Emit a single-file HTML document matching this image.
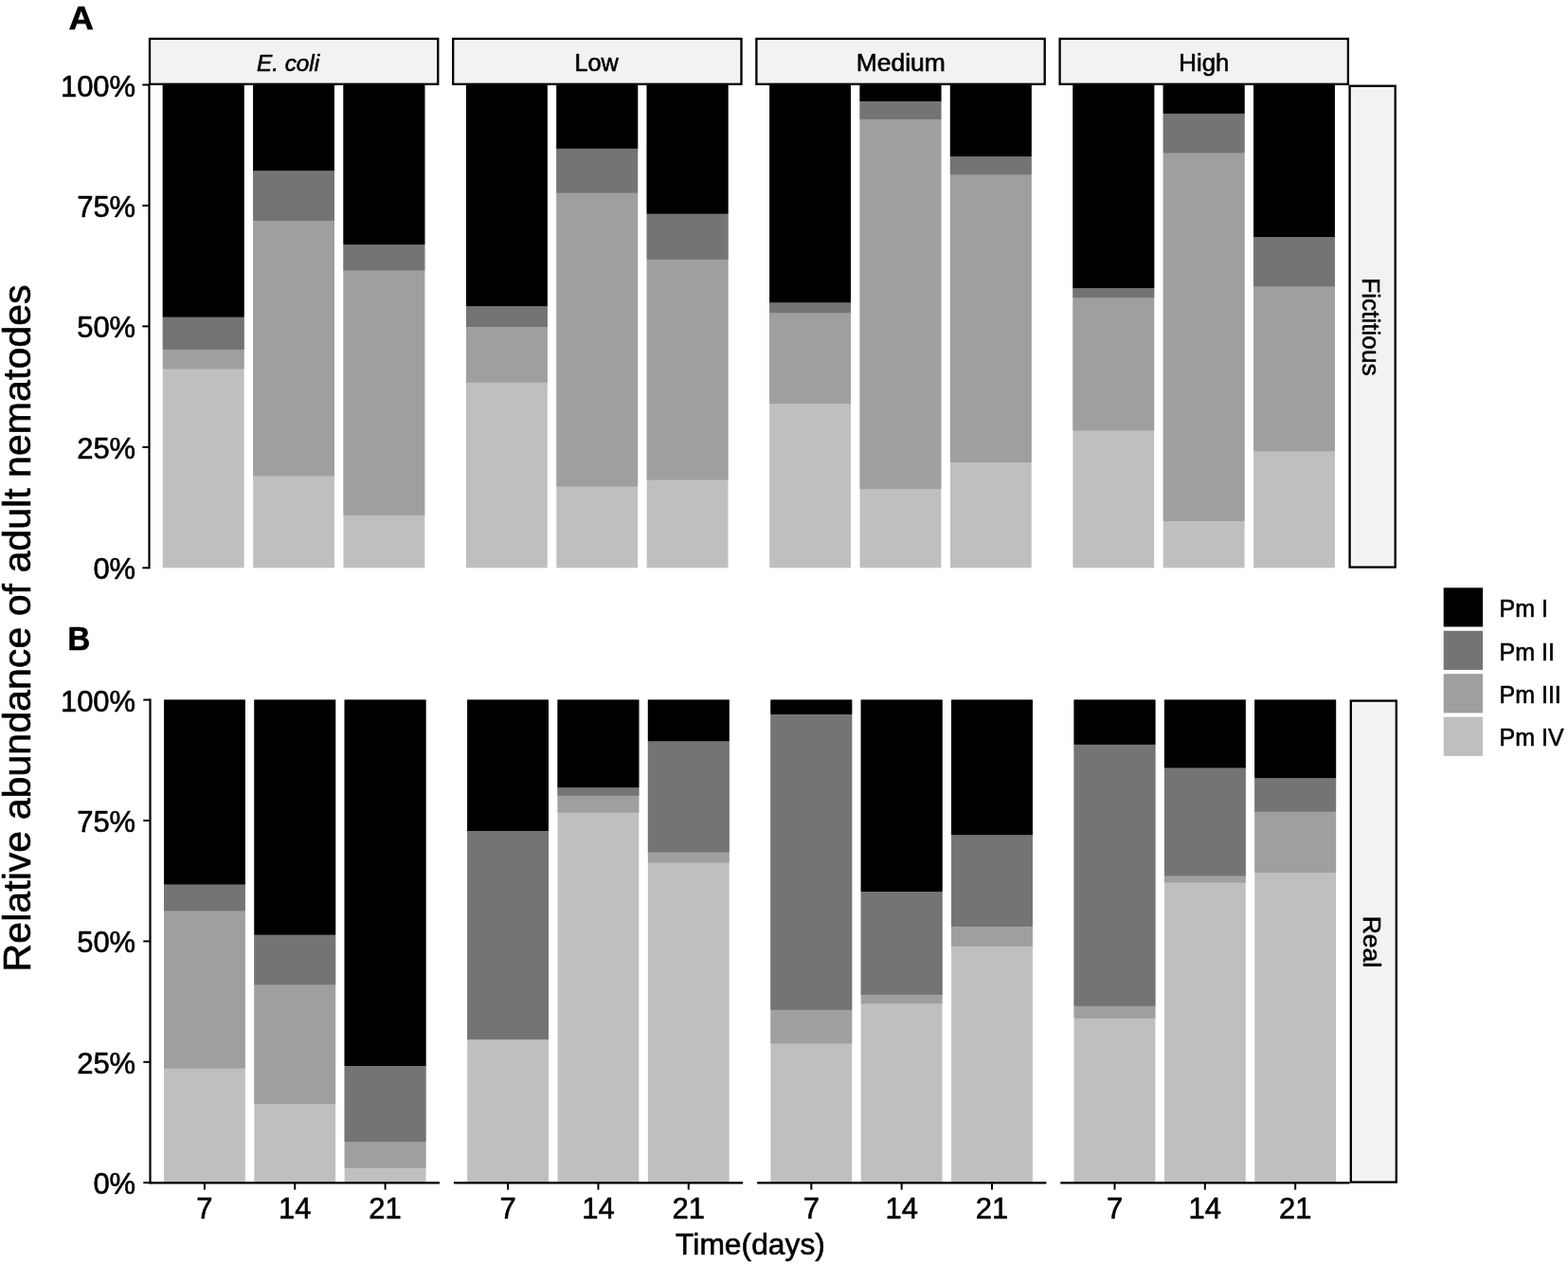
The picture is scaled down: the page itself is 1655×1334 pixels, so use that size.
<!DOCTYPE html>
<html lang="en">
<head>
<meta charset="utf-8">
<title>Relative abundance of adult nematodes</title>
<style>
html,body{margin:0;padding:0;background:#ffffff;}
body{width:1655px;height:1334px;overflow:hidden;}
svg{display:block;}
svg text{font-family:"Liberation Sans", sans-serif;fill:#000000;stroke:#000000;stroke-width:0.6px;stroke-linejoin:round;}
</style>
</head>
<body>
<svg width="1655" height="1334" viewBox="0 0 1655 1334">
<rect x="0" y="0" width="1655" height="1334" fill="#ffffff"/>
<g id="panelA">
<rect x="171.8" y="89.5" width="85.81" height="509.8" fill="#bfbfbf"/>
<rect x="171.8" y="89.5" width="85.81" height="300" fill="#9f9f9f"/>
<rect x="171.8" y="89.5" width="85.81" height="279.4" fill="#747474"/>
<rect x="171.8" y="89.5" width="85.81" height="245.1" fill="#000000"/>
<rect x="267.15" y="89.5" width="85.81" height="509.8" fill="#bfbfbf"/>
<rect x="267.15" y="89.5" width="85.81" height="413" fill="#9f9f9f"/>
<rect x="267.15" y="89.5" width="85.81" height="143.4" fill="#747474"/>
<rect x="267.15" y="89.5" width="85.81" height="90.6" fill="#000000"/>
<rect x="362.49" y="89.5" width="85.81" height="509.8" fill="#bfbfbf"/>
<rect x="362.49" y="89.5" width="85.81" height="454.3" fill="#9f9f9f"/>
<rect x="362.49" y="89.5" width="85.81" height="195.9" fill="#747474"/>
<rect x="362.49" y="89.5" width="85.81" height="168.6" fill="#000000"/>
<rect x="492" y="89.5" width="85.81" height="509.8" fill="#bfbfbf"/>
<rect x="492" y="89.5" width="85.81" height="314.3" fill="#9f9f9f"/>
<rect x="492" y="89.5" width="85.81" height="255.5" fill="#747474"/>
<rect x="492" y="89.5" width="85.81" height="233.6" fill="#000000"/>
<rect x="587.35" y="89.5" width="85.81" height="509.8" fill="#bfbfbf"/>
<rect x="587.35" y="89.5" width="85.81" height="424" fill="#9f9f9f"/>
<rect x="587.35" y="89.5" width="85.81" height="114.1" fill="#747474"/>
<rect x="587.35" y="89.5" width="85.81" height="67.3" fill="#000000"/>
<rect x="682.69" y="89.5" width="85.81" height="509.8" fill="#bfbfbf"/>
<rect x="682.69" y="89.5" width="85.81" height="417" fill="#9f9f9f"/>
<rect x="682.69" y="89.5" width="85.81" height="184.3" fill="#747474"/>
<rect x="682.69" y="89.5" width="85.81" height="136.1" fill="#000000"/>
<rect x="812.2" y="89.5" width="85.81" height="509.8" fill="#bfbfbf"/>
<rect x="812.2" y="89.5" width="85.81" height="336.6" fill="#9f9f9f"/>
<rect x="812.2" y="89.5" width="85.81" height="240.7" fill="#747474"/>
<rect x="812.2" y="89.5" width="85.81" height="229.8" fill="#000000"/>
<rect x="907.55" y="89.5" width="85.81" height="509.8" fill="#bfbfbf"/>
<rect x="907.55" y="89.5" width="85.81" height="426.6" fill="#9f9f9f"/>
<rect x="907.55" y="89.5" width="85.81" height="36.4" fill="#747474"/>
<rect x="907.55" y="89.5" width="85.81" height="17.4" fill="#000000"/>
<rect x="1002.89" y="89.5" width="85.81" height="509.8" fill="#bfbfbf"/>
<rect x="1002.89" y="89.5" width="85.81" height="398.5" fill="#9f9f9f"/>
<rect x="1002.89" y="89.5" width="85.81" height="94.8" fill="#747474"/>
<rect x="1002.89" y="89.5" width="85.81" height="75.6" fill="#000000"/>
<rect x="1132.4" y="89.5" width="85.81" height="509.8" fill="#bfbfbf"/>
<rect x="1132.4" y="89.5" width="85.81" height="365" fill="#9f9f9f"/>
<rect x="1132.4" y="89.5" width="85.81" height="224.6" fill="#747474"/>
<rect x="1132.4" y="89.5" width="85.81" height="214.6" fill="#000000"/>
<rect x="1227.75" y="89.5" width="85.81" height="509.8" fill="#bfbfbf"/>
<rect x="1227.75" y="89.5" width="85.81" height="460.5" fill="#9f9f9f"/>
<rect x="1227.75" y="89.5" width="85.81" height="71.9" fill="#747474"/>
<rect x="1227.75" y="89.5" width="85.81" height="30.4" fill="#000000"/>
<rect x="1323.09" y="89.5" width="85.81" height="509.8" fill="#bfbfbf"/>
<rect x="1323.09" y="89.5" width="85.81" height="386.7" fill="#9f9f9f"/>
<rect x="1323.09" y="89.5" width="85.81" height="212.8" fill="#747474"/>
<rect x="1323.09" y="89.5" width="85.81" height="160.6" fill="#000000"/>
<rect x="158" y="40.9" width="304.3" height="47.9" fill="#f2f2f2" stroke="#000" stroke-width="2.3"/>
<rect x="478.2" y="40.9" width="304.3" height="47.9" fill="#f2f2f2" stroke="#000" stroke-width="2.3"/>
<rect x="798.4" y="40.9" width="304.3" height="47.9" fill="#f2f2f2" stroke="#000" stroke-width="2.3"/>
<rect x="1118.6" y="40.9" width="304.3" height="47.9" fill="#f2f2f2" stroke="#000" stroke-width="2.3"/>
<text x="271" y="75" font-size="24.3" font-style="italic">E. coli</text>
<text transform="translate(606.4 75) scale(0.957 1)" font-size="26.5">Low</text>
<text x="950.8" y="75" font-size="26.5" text-anchor="middle">Medium</text>
<text transform="translate(1270.9 75) scale(0.975 1)" font-size="26.5" text-anchor="middle">High</text>
<rect x="1424.6" y="90.7" width="48.1" height="507.9" fill="#f2f2f2" stroke="#000" stroke-width="2.3"/>
<text transform="translate(1437.6 344.9) rotate(90)" font-size="26.2" text-anchor="middle">Fictitious</text>
<path d="M157.5 88.5 V600.3" stroke="#000" stroke-width="2.2" fill="none"/>
<path d="M150.3 599.3 H157.5" stroke="#000" stroke-width="2" fill="none"/>
<text x="143.2" y="611.3" font-size="31" text-anchor="end">0%</text>
<path d="M150.3 471.85 H157.5" stroke="#000" stroke-width="2" fill="none"/>
<text x="143.2" y="483.85" font-size="31" text-anchor="end">25%</text>
<path d="M150.3 344.4 H157.5" stroke="#000" stroke-width="2" fill="none"/>
<text x="143.2" y="356.4" font-size="31" text-anchor="end">50%</text>
<path d="M150.3 216.95 H157.5" stroke="#000" stroke-width="2" fill="none"/>
<text x="143.2" y="228.95" font-size="31" text-anchor="end">75%</text>
<path d="M150.3 89.5 H157.5" stroke="#000" stroke-width="2" fill="none"/>
<text x="143.2" y="101.5" font-size="31" text-anchor="end">100%</text>
</g>
<g id="panelB">
<rect x="173" y="738.6" width="85.81" height="509.6" fill="#bfbfbf"/>
<rect x="173" y="738.6" width="85.81" height="389" fill="#9f9f9f"/>
<rect x="173" y="738.6" width="85.81" height="222.7" fill="#747474"/>
<rect x="173" y="738.6" width="85.81" height="194.8" fill="#000000"/>
<rect x="268.35" y="738.6" width="85.81" height="509.6" fill="#bfbfbf"/>
<rect x="268.35" y="738.6" width="85.81" height="426.5" fill="#9f9f9f"/>
<rect x="268.35" y="738.6" width="85.81" height="300.7" fill="#747474"/>
<rect x="268.35" y="738.6" width="85.81" height="248" fill="#000000"/>
<rect x="363.69" y="738.6" width="85.81" height="509.6" fill="#bfbfbf"/>
<rect x="363.69" y="738.6" width="85.81" height="494.1" fill="#9f9f9f"/>
<rect x="363.69" y="738.6" width="85.81" height="466.4" fill="#747474"/>
<rect x="363.69" y="738.6" width="85.81" height="386.4" fill="#000000"/>
<rect x="493.2" y="738.6" width="85.81" height="509.6" fill="#bfbfbf"/>
<rect x="493.2" y="738.6" width="85.81" height="358.5" fill="#9f9f9f"/>
<rect x="493.2" y="738.6" width="85.81" height="358.5" fill="#747474"/>
<rect x="493.2" y="738.6" width="85.81" height="138.4" fill="#000000"/>
<rect x="588.55" y="738.6" width="85.81" height="509.6" fill="#bfbfbf"/>
<rect x="588.55" y="738.6" width="85.81" height="119" fill="#9f9f9f"/>
<rect x="588.55" y="738.6" width="85.81" height="101.1" fill="#747474"/>
<rect x="588.55" y="738.6" width="85.81" height="92.5" fill="#000000"/>
<rect x="683.89" y="738.6" width="85.81" height="509.6" fill="#bfbfbf"/>
<rect x="683.89" y="738.6" width="85.81" height="171.9" fill="#9f9f9f"/>
<rect x="683.89" y="738.6" width="85.81" height="160.9" fill="#747474"/>
<rect x="683.89" y="738.6" width="85.81" height="43.6" fill="#000000"/>
<rect x="813.4" y="738.6" width="85.81" height="509.6" fill="#bfbfbf"/>
<rect x="813.4" y="738.6" width="85.81" height="362.7" fill="#9f9f9f"/>
<rect x="813.4" y="738.6" width="85.81" height="327.2" fill="#747474"/>
<rect x="813.4" y="738.6" width="85.81" height="15.3" fill="#000000"/>
<rect x="908.75" y="738.6" width="85.81" height="509.6" fill="#bfbfbf"/>
<rect x="908.75" y="738.6" width="85.81" height="320.6" fill="#9f9f9f"/>
<rect x="908.75" y="738.6" width="85.81" height="311.2" fill="#747474"/>
<rect x="908.75" y="738.6" width="85.81" height="202.4" fill="#000000"/>
<rect x="1004.09" y="738.6" width="85.81" height="509.6" fill="#bfbfbf"/>
<rect x="1004.09" y="738.6" width="85.81" height="260.2" fill="#9f9f9f"/>
<rect x="1004.09" y="738.6" width="85.81" height="239.3" fill="#747474"/>
<rect x="1004.09" y="738.6" width="85.81" height="142.5" fill="#000000"/>
<rect x="1133.6" y="738.6" width="85.81" height="509.6" fill="#bfbfbf"/>
<rect x="1133.6" y="738.6" width="85.81" height="336.1" fill="#9f9f9f"/>
<rect x="1133.6" y="738.6" width="85.81" height="323.2" fill="#747474"/>
<rect x="1133.6" y="738.6" width="85.81" height="47.2" fill="#000000"/>
<rect x="1228.95" y="738.6" width="85.81" height="509.6" fill="#bfbfbf"/>
<rect x="1228.95" y="738.6" width="85.81" height="192.8" fill="#9f9f9f"/>
<rect x="1228.95" y="738.6" width="85.81" height="185.8" fill="#747474"/>
<rect x="1228.95" y="738.6" width="85.81" height="71.8" fill="#000000"/>
<rect x="1324.29" y="738.6" width="85.81" height="509.6" fill="#bfbfbf"/>
<rect x="1324.29" y="738.6" width="85.81" height="182.4" fill="#9f9f9f"/>
<rect x="1324.29" y="738.6" width="85.81" height="118" fill="#747474"/>
<rect x="1324.29" y="738.6" width="85.81" height="82.5" fill="#000000"/>
<rect x="1425.8" y="739.6" width="48" height="508" fill="#f2f2f2" stroke="#000" stroke-width="2.3"/>
<text transform="translate(1438.8 993.9) rotate(90)" font-size="26.5" text-anchor="middle">Real</text>
<path d="M158.5 737.6 V1249.2" stroke="#000" stroke-width="2.2" fill="none"/>
<path d="M151.3 1248.2 H158.5" stroke="#000" stroke-width="2" fill="none"/>
<text x="143.2" y="1260.2" font-size="31" text-anchor="end">0%</text>
<path d="M151.3 1120.8 H158.5" stroke="#000" stroke-width="2" fill="none"/>
<text x="143.2" y="1132.8" font-size="31" text-anchor="end">25%</text>
<path d="M151.3 993.4 H158.5" stroke="#000" stroke-width="2" fill="none"/>
<text x="143.2" y="1005.4" font-size="31" text-anchor="end">50%</text>
<path d="M151.3 866 H158.5" stroke="#000" stroke-width="2" fill="none"/>
<text x="143.2" y="878" font-size="31" text-anchor="end">75%</text>
<path d="M151.3 738.6 H158.5" stroke="#000" stroke-width="2" fill="none"/>
<text x="143.2" y="750.6" font-size="31" text-anchor="end">100%</text>
<path d="M157.6 1248.4 H464" stroke="#000" stroke-width="2.4" fill="none"/>
<path d="M215.91 1248.2 V1255.6" stroke="#000" stroke-width="2" fill="none"/>
<text x="215.91" y="1286.2" font-size="31" text-anchor="middle">7</text>
<path d="M311.25 1248.2 V1255.6" stroke="#000" stroke-width="2" fill="none"/>
<text x="311.25" y="1286.2" font-size="31" text-anchor="middle">14</text>
<path d="M406.59 1248.2 V1255.6" stroke="#000" stroke-width="2" fill="none"/>
<text x="406.59" y="1286.2" font-size="31" text-anchor="middle">21</text>
<path d="M478.9 1248.4 H784.2" stroke="#000" stroke-width="2.4" fill="none"/>
<path d="M536.11 1248.2 V1255.6" stroke="#000" stroke-width="2" fill="none"/>
<text x="536.11" y="1286.2" font-size="31" text-anchor="middle">7</text>
<path d="M631.45 1248.2 V1255.6" stroke="#000" stroke-width="2" fill="none"/>
<text x="631.45" y="1286.2" font-size="31" text-anchor="middle">14</text>
<path d="M726.79 1248.2 V1255.6" stroke="#000" stroke-width="2" fill="none"/>
<text x="726.79" y="1286.2" font-size="31" text-anchor="middle">21</text>
<path d="M799.1 1248.4 H1104.4" stroke="#000" stroke-width="2.4" fill="none"/>
<path d="M856.31 1248.2 V1255.6" stroke="#000" stroke-width="2" fill="none"/>
<text x="856.31" y="1286.2" font-size="31" text-anchor="middle">7</text>
<path d="M951.65 1248.2 V1255.6" stroke="#000" stroke-width="2" fill="none"/>
<text x="951.65" y="1286.2" font-size="31" text-anchor="middle">14</text>
<path d="M1046.99 1248.2 V1255.6" stroke="#000" stroke-width="2" fill="none"/>
<text x="1046.99" y="1286.2" font-size="31" text-anchor="middle">21</text>
<path d="M1119.3 1248.4 H1424.6" stroke="#000" stroke-width="2.4" fill="none"/>
<path d="M1176.51 1248.2 V1255.6" stroke="#000" stroke-width="2" fill="none"/>
<text x="1176.51" y="1286.2" font-size="31" text-anchor="middle">7</text>
<path d="M1271.85 1248.2 V1255.6" stroke="#000" stroke-width="2" fill="none"/>
<text x="1271.85" y="1286.2" font-size="31" text-anchor="middle">14</text>
<path d="M1367.19 1248.2 V1255.6" stroke="#000" stroke-width="2" fill="none"/>
<text x="1367.19" y="1286.2" font-size="31" text-anchor="middle">21</text>
</g>
<text transform="translate(72.6 30.9) scale(1.077 1.044)" font-size="34" font-weight="bold">A</text>
<text transform="translate(71.5 685.9) scale(0.965 1.03)" font-size="34" font-weight="bold">B</text>
<text x="792" y="1323.7" font-size="31.8" text-anchor="middle">Time(days)</text>
<text transform="translate(32.2 662.9) rotate(-90)" font-size="41.15" text-anchor="middle">Relative abundance of adult nematodes</text>
<rect x="1523.7" y="620.3" width="41.4" height="41.2" fill="#000000"/>
<text x="1582.5" y="651.1" font-size="25" >Pm I</text>
<rect x="1523.7" y="665.75" width="41.4" height="41.2" fill="#747474"/>
<text x="1582.5" y="696.55" font-size="25" >Pm II</text>
<rect x="1523.7" y="711.2" width="41.4" height="41.2" fill="#9f9f9f"/>
<text x="1582.5" y="742" font-size="25" >Pm III</text>
<rect x="1523.7" y="756.65" width="41.4" height="41.2" fill="#bfbfbf"/>
<text x="1582.5" y="787.45" font-size="25" >Pm IV</text>
</svg>
</body>
</html>
